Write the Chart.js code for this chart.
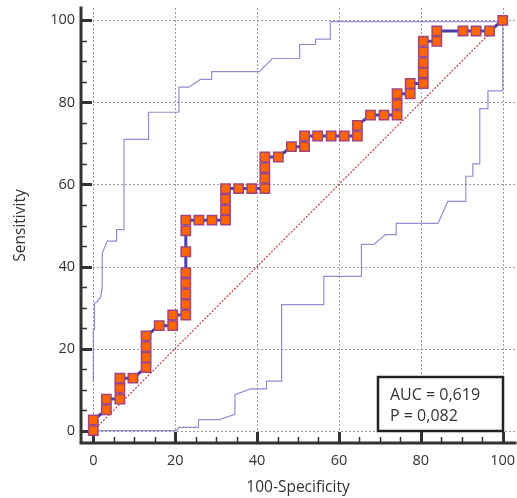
<!DOCTYPE html>
<html>
<head>
<meta charset="utf-8">
<script src="https://cdn.jsdelivr.net/npm/chart.js@4.4.1/dist/chart.umd.min.js"></script>
<style>
  html, body { margin: 0; padding: 0; background: #ffffff; overflow: hidden; }
  canvas { display: block; }
</style>
</head>
<body>
<canvas id="c" width="517" height="498" style="width:517px;height:498px"></canvas>
<script>
// ---- Data ----
const tickValues = [0, 20, 40, 60, 80, 100];
const xTitle = '100-Specificity';
const yTitle = 'Sensitivity';
const aucText = 'AUC = 0,619';
const pText = 'P = 0,082';

// ROC curve (100-Specificity, Sensitivity)
const rocX = [0, 0, 3.2, 3.2, 6.5, 6.5, 6.5, 9.7, 12.9, 12.9, 12.9, 12.9, 16.1, 19.4, 19.4,
  22.6, 22.6, 22.6, 22.6, 22.6, 22.6, 22.6, 22.6, 25.8, 29.0, 32.3, 32.3, 32.3, 32.3,
  35.5, 38.7, 41.9, 41.9, 41.9, 41.9, 45.2, 48.4, 51.6, 51.6, 54.8, 58.1, 61.3, 64.5, 64.5,
  67.7, 71.0, 74.2, 74.2, 74.2, 77.4, 77.4, 80.6, 80.6, 80.6, 80.6, 80.6, 83.9, 83.9,
  90.3, 93.5, 96.8, 100];
const rocY = [0, 2.6, 5.1, 7.7, 7.7, 10.3, 12.8, 12.8, 15.4, 17.9, 20.5, 23.1, 25.6, 25.6, 28.2,
  28.2, 30.8, 33.3, 35.9, 38.5, 43.6, 48.7, 51.3, 51.3, 51.3, 51.3, 53.8, 56.4, 59.0,
  59.0, 59.0, 59.0, 61.5, 64.1, 66.7, 66.7, 69.2, 69.2, 71.8, 71.8, 71.8, 71.8, 71.8, 74.4,
  76.9, 76.9, 76.9, 79.5, 82.1, 82.1, 84.6, 84.6, 87.2, 89.7, 92.3, 94.9, 94.9, 97.4,
  97.4, 97.4, 97.4, 100];

// Upper confidence bound
const upperX = [0, 0, 0.3, 0.3, 1.0, 1.8, 2.2, 2.2, 3.4, 5.7, 5.7, 7.5, 7.5, 13.5, 13.5,
  20.9, 20.9, 23.3, 26.2, 28.9, 28.9, 40.6, 43.7, 50.4, 50.4, 54.3, 54.3, 57.9, 57.9, 100];
const upperY = [12.0, 24.6, 24.6, 31.1, 31.5, 32.6, 35.0, 43.3, 46.2, 46.2, 49.0, 49.0, 71.0, 71.0, 77.6,
  77.6, 83.7, 83.7, 85.6, 85.6, 87.5, 87.5, 90.7, 90.7, 94.1, 94.1, 95.4, 95.4, 99.7, 99.7];

// Lower confidence bound
const lowerX = [0, 20.4, 20.9, 25.7, 25.7, 30.8, 34.6, 34.6, 38.4, 42.3, 42.3, 46.0, 46.0,
  56.3, 56.3, 65.5, 65.5, 68.5, 71.4, 74.0, 74.0, 84.2, 86.6, 91.0, 91.0, 92.7, 92.7,
  94.4, 94.4, 96.4, 96.4, 100, 100];
const lowerY = [0, 0, 0.8, 0.8, 2.7, 2.7, 4.0, 8.8, 10.2, 10.2, 12.1, 12.1, 30.7,
  30.7, 37.6, 37.6, 45.4, 45.4, 47.8, 47.8, 50.5, 50.5, 55.9, 55.9, 62.0, 62.0, 65.0,
  65.0, 78.5, 78.5, 82.8, 82.8, 100];

// Reference diagonal
const diagX = [0, 100];
const diagY = [0, 100];

// ---- Build chart ----
const pts = (xs, ys) => xs.map((v, i) => ({ x: v, y: ys[i] }));
const FONT = "'Open Sans', 'Noto Sans', sans-serif";
const TEXT = '#333333';

const decor = {
  id: 'decor',
  beforeDatasetsDraw(chart) {
    const { ctx, chartArea: a, scales: { x, y } } = chart;
    ctx.save();
    // dotted grid lines
    ctx.strokeStyle = '#9a9a9a';
    ctx.lineWidth = 1;
    ctx.setLineDash([2, 2]);
    ctx.beginPath();
    tickValues.forEach(v => {
      const px = Math.round(x.getPixelForValue(v)) + 0.5;
      ctx.moveTo(px, a.top); ctx.lineTo(px, a.bottom);
      const py = Math.round(y.getPixelForValue(v)) + 0.5;
      ctx.moveTo(a.left, py); ctx.lineTo(a.right, py);
    });
    ctx.stroke();
    ctx.setLineDash([]);
    ctx.strokeStyle = '#333333';
    // minor ticks every 5
    ctx.lineWidth = 1.5;
    ctx.beginPath();
    for (let v = 0; v <= 100; v += 5) {
      if (v % 20 === 0) continue;
      const px = Math.round(x.getPixelForValue(v)) + 0.5;
      ctx.moveTo(px, a.bottom); ctx.lineTo(px, a.bottom - 6);
      const py = Math.round(y.getPixelForValue(v)) + 0.5;
      ctx.moveTo(a.left, py); ctx.lineTo(a.left + 6, py);
    }
    ctx.stroke();
    // major ticks
    ctx.lineWidth = 3;
    ctx.beginPath();
    tickValues.forEach(v => {
      const px = Math.round(x.getPixelForValue(v)) + 0.5;
      ctx.moveTo(px, a.bottom); ctx.lineTo(px, a.bottom - 11);
      const py = Math.round(y.getPixelForValue(v)) + 0.5;
      ctx.moveTo(a.left, py); ctx.lineTo(a.left + 11, py);
    });
    ctx.stroke();
    // axis lines
    ctx.lineWidth = 3;
    ctx.lineCap = 'square';
    ctx.beginPath();
    ctx.moveTo(a.left, a.top); ctx.lineTo(a.left, a.bottom); ctx.lineTo(a.right, a.bottom);
    ctx.stroke();
    ctx.restore();
  },
  afterDatasetsDraw(chart) {
    const { ctx, scales: { x, y } } = chart;
    const l = Math.round(x.getPixelForValue(69.6)), r = Math.round(x.getPixelForValue(100));
    const t = Math.round(y.getPixelForValue(13.2)), b = Math.round(y.getPixelForValue(0));
    ctx.save();
    ctx.fillStyle = '#ffffff';
    ctx.fillRect(l, t, r - l, b - t);
    ctx.strokeStyle = '#222222';
    ctx.lineWidth = 2.5;
    ctx.strokeRect(l, t, r - l, b - t);
    ctx.fillStyle = TEXT;
    ctx.font = "16px " + FONT;
    ctx.textBaseline = 'alphabetic';
    ctx.textAlign = 'left';
    ctx.fillText(aucText, l + 12, t + 23);
    ctx.fillText(pText, l + 12, t + 44);
    ctx.restore();
  }
};

const commonScale = (title, isX) => ({
  type: 'linear',
  min: -3,
  max: 103,
  afterBuildTicks: s => { s.ticks = tickValues.map(v => ({ value: v })); },
  afterFit: s => {
    if (isX) { s.height = 55; s.paddingLeft = 0; s.paddingRight = 0; }
    else { s.width = 81; s.paddingTop = 0; s.paddingBottom = 0; }
  },
  grid: { display: false, drawTicks: false },
  border: { display: false },
  ticks: isX
    ? { color: TEXT, font: { family: FONT, size: 14.5, lineHeight: 2.5 }, padding: 0, autoSkip: false, maxRotation: 0 }
    : { color: TEXT, font: { family: FONT, size: 14.5 }, padding: 6, autoSkip: false, maxRotation: 0 },
  title: { display: true, text: title, color: TEXT, font: { family: FONT, size: 15.5 },
           padding: isX ? { top: 0, bottom: 1 } : { top: 11, bottom: 0 } }
});

new Chart(document.getElementById('c'), {
  type: 'scatter',
  data: {
    datasets: [
      { label: 'ROC', data: pts(rocX, rocY), showLine: true, borderColor: '#4a3fa8', borderWidth: 3,
        pointStyle: 'rect', pointRadius: 6.6, pointBackgroundColor: '#ff6600',
        pointBorderColor: '#a0457e', pointBorderWidth: 1.5, order: 0 },
      { label: 'Upper', data: pts(upperX, upperY), showLine: true, borderColor: 'rgba(105,105,195,0.75)',
        borderWidth: 1.2, pointRadius: 0, order: 2 },
      { label: 'Lower', data: pts(lowerX, lowerY), showLine: true, borderColor: 'rgba(105,105,195,0.75)',
        borderWidth: 1.2, pointRadius: 0, order: 2 },
      { label: 'Diagonal', data: pts(diagX, diagY), showLine: true, borderColor: '#c03c3c',
        borderWidth: 1.2, borderDash: [2, 1.5], pointRadius: 0, order: 1 }
    ]
  },
  options: {
    responsive: false,
    animation: false,
    layout: { autoPadding: false, padding: { top: 8, right: 2, left: 0, bottom: 0 } },
    plugins: { legend: { display: false }, tooltip: { enabled: false } },
    scales: { x: commonScale(xTitle, true), y: commonScale(yTitle, false) }
  },
  plugins: [decor]
});
</script>
</body>
</html>
